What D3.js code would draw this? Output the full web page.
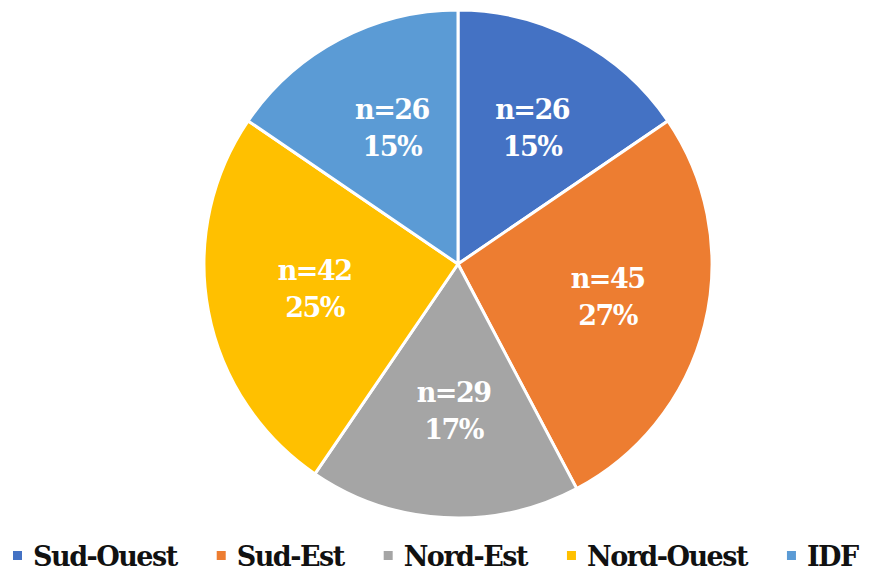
<!DOCTYPE html>
<html>
<head>
<meta charset="utf-8">
<script src="https://cdn.jsdelivr.net/npm/d3@7"></script>
<style>
  body { margin: 0; background: #fff; }
</style>
</head>
<body>
<div id="chart"></div>
<script>
// regions and their counts
var regions = ["Sud-Ouest", "Sud-Est", "Nord-Est", "Nord-Ouest", "IDF"];
var counts = [26, 45, 29, 42, 26];
var colors = ["#4472C4", "#ED7D31", "#A5A5A5", "#FFC000", "#5B9BD5"];

var width = 877, height = 572;
var cx = 458, cy = 264, radius = 254;
var serif = "'DejaVu Serif', 'Liberation Serif', serif";

var svg = d3.select("#chart").append("svg")
    .attr("width", width)
    .attr("height", height)
    .style("font-family", serif)
    .style("font-weight", "bold");

var total = d3.sum(counts);
var data = regions.map(function(r, i) { return {name: r, n: counts[i], color: colors[i]}; });

var pie = d3.pie().sort(null).value(function(d) { return d.n; });
var arc = d3.arc().innerRadius(0).outerRadius(radius);
// centroid of this arc sits 150px from the center
var labelArc = d3.arc().innerRadius(300 - radius).outerRadius(radius);

var g = svg.append("g").attr("transform", "translate(" + cx + "," + cy + ")");

var slices = g.selectAll(".slice")
    .data(pie(data))
  .enter().append("g")
    .attr("class", "slice");

slices.append("path")
    .attr("d", arc)
    .attr("fill", function(d) { return d.data.color; })
    .attr("stroke", "#fff")
    .attr("stroke-width", 3);

var labels = slices.append("text")
    .attr("transform", function(d) {
        var c = labelArc.centroid(d);
        return "translate(" + (c[0] + 4) + "," + (c[1] - 3) + ")";
    })
    .attr("text-anchor", "middle")
    .attr("fill", "#fff")
    .style("font-size", "27px")
    .style("letter-spacing", "-1.5px");

labels.append("tspan")
    .attr("x", 0).attr("y", -9)
    .text(function(d) { return "n=" + d.data.n; });
labels.append("tspan")
    .attr("x", 0).attr("y", 28)
    .text(function(d) { return Math.round(d.data.n / total * 100) + "%"; });

// legend
var legend = svg.append("g").attr("transform", "translate(0,556)");
var lx = 13;
data.forEach(function(d) {
    var item = legend.append("g").attr("transform", "translate(" + lx + ",0)");
    item.append("rect")
        .attr("x", 0).attr("y", -5)
        .attr("width", 9).attr("height", 9)
        .attr("fill", d.color);
    var t = item.append("text")
        .attr("x", 20).attr("y", 10)
        .attr("fill", "#111")
        .style("font-size", "27px")
        .style("letter-spacing", "-1.5px")
        .text(d.name);
    lx += 20 + t.node().getComputedTextLength() + 40;
});
</script>
</body>
</html>
